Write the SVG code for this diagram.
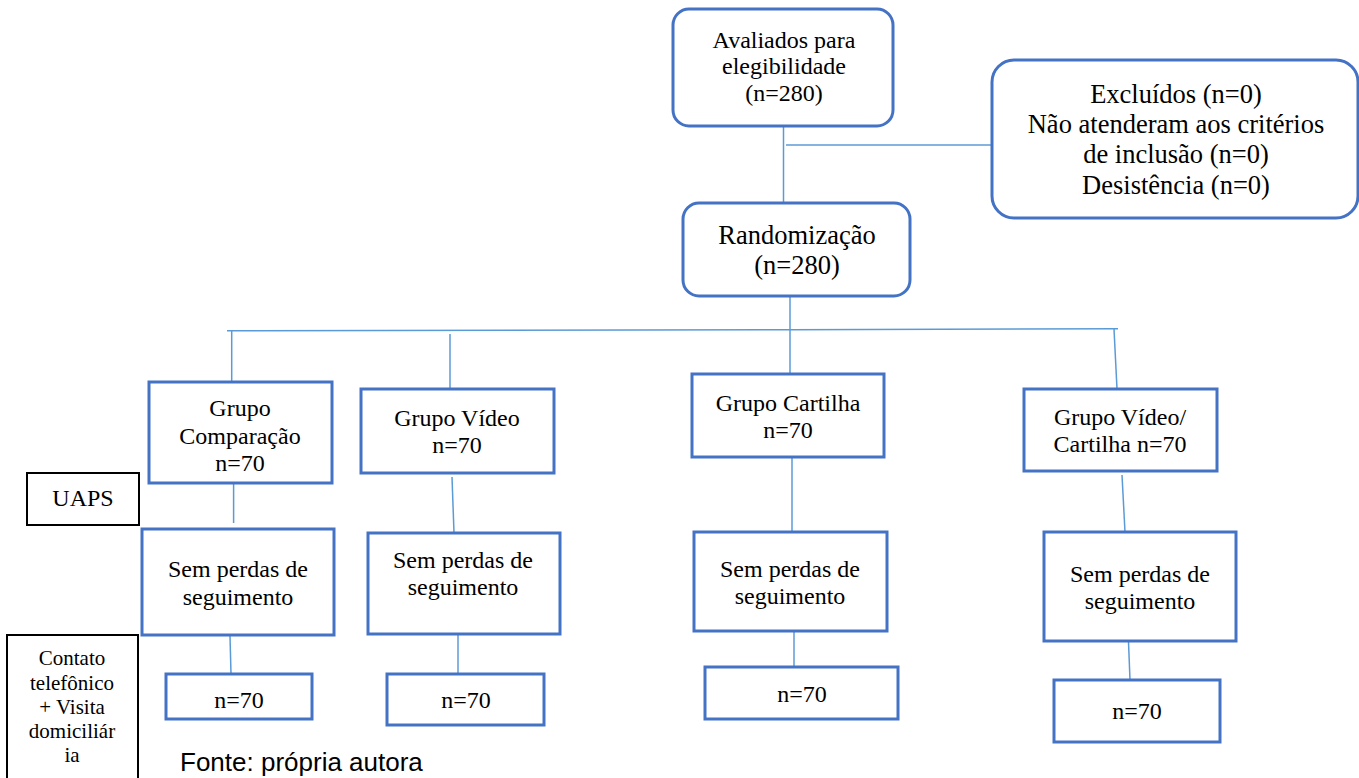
<svg xmlns="http://www.w3.org/2000/svg" width="1359" height="778" viewBox="0 0 1359 778">
<style>
  .box { fill: #ffffff; stroke: #4472C4; stroke-width: 3; }
  .bbox { fill: #ffffff; stroke: #000000; stroke-width: 2; }
  .ln { fill: none; stroke: #5B9BD5; stroke-width: 1.5; }
  text { font-family: "Liberation Serif", "Times New Roman", serif; fill: #000000; text-anchor: middle; }
  .t24 { font-size: 24px; }
  .t26 { font-size: 26.5px; }
  .t21 { font-size: 21px; }
  .src { font-family: "Liberation Sans", Arial, sans-serif; font-size: 26px; text-anchor: start; }
</style>
<rect width="1359" height="778" fill="#ffffff"/>
<g id="connectors">
  <line class="ln" x1="783.5" y1="126" x2="783.5" y2="202"/>
  <line class="ln" x1="786" y1="145" x2="991" y2="145"/>
  <line class="ln" x1="790" y1="296" x2="790" y2="374"/>
  <polyline class="ln" points="227,330.7 790,329.7 1118,328.7"/>
  <line class="ln" x1="231.7" y1="331" x2="231.7" y2="382"/>
  <line class="ln" x1="450" y1="334" x2="450" y2="389"/>
  <line class="ln" x1="1114" y1="329" x2="1117" y2="389"/>
  <line class="ln" x1="233.6" y1="483" x2="233.6" y2="523"/>
  <line class="ln" x1="452" y1="477" x2="454" y2="533"/>
  <line class="ln" x1="792" y1="454" x2="792" y2="532"/>
  <line class="ln" x1="1122" y1="475" x2="1125" y2="532"/>
  <line class="ln" x1="230" y1="636" x2="231" y2="674"/>
  <line class="ln" x1="458" y1="628" x2="458" y2="674"/>
  <line class="ln" x1="794" y1="631" x2="794" y2="667"/>
  <line class="ln" x1="1128.5" y1="642" x2="1130" y2="680"/>
</g>
<g id="avaliados">
  <rect class="box" x="673" y="9" width="220" height="117" rx="16"/>
  <text class="t24" x="784" y="48">Avaliados para</text>
  <text class="t24" x="784" y="74">elegibilidade</text>
  <text class="t24" x="784" y="101">(n=280)</text>
</g>
<g id="excluidos">
  <rect class="box" x="992" y="60" width="366" height="158" rx="22"/>
  <text class="t26" x="1176" y="103">Excluídos (n=0)</text>
  <text class="t26" x="1176" y="133">Não atenderam aos critérios</text>
  <text class="t26" x="1176" y="163">de inclusão (n=0)</text>
  <text class="t26" x="1176" y="194">Desistência (n=0)</text>
</g>
<g id="randomizacao">
  <rect class="box" x="683" y="203" width="227" height="93" rx="16"/>
  <text class="t26" x="797" y="244">Randomização</text>
  <text class="t26" x="797" y="274">(n=280)</text>
</g>
<g id="grupo-comparacao">
  <rect class="box" x="149" y="382" width="183" height="101"/>
  <text class="t24" x="240" y="416">Grupo</text>
  <text class="t24" x="240" y="444">Comparação</text>
  <text class="t24" x="240" y="471">n=70</text>
</g>
<g id="grupo-video">
  <rect class="box" x="361" y="389" width="193" height="84"/>
  <text class="t24" x="457" y="426">Grupo Vídeo</text>
  <text class="t24" x="457" y="453">n=70</text>
</g>
<g id="grupo-cartilha">
  <rect class="box" x="692" y="374" width="192" height="83"/>
  <text class="t24" x="788" y="411">Grupo Cartilha</text>
  <text class="t24" x="788" y="438">n=70</text>
</g>
<g id="grupo-video-cartilha">
  <rect class="box" x="1024" y="389" width="193" height="82"/>
  <text class="t24" x="1120" y="425">Grupo Vídeo/</text>
  <text class="t24" x="1120" y="452">Cartilha n=70</text>
</g>
<g id="uaps">
  <rect class="bbox" x="27" y="473" width="112" height="52"/>
  <text class="t24" x="83" y="506">UAPS</text>
</g>
<g id="sem-perdas-1">
  <rect class="box" x="142" y="529" width="192" height="106"/>
  <text class="t24" x="238" y="577">Sem perdas de</text>
  <text class="t24" x="238" y="605">seguimento</text>
</g>
<g id="sem-perdas-2">
  <rect class="box" x="368" y="533" width="192" height="101"/>
  <text class="t24" x="463" y="568">Sem perdas de</text>
  <text class="t24" x="463" y="595">seguimento</text>
</g>
<g id="sem-perdas-3">
  <rect class="box" x="694" y="532" width="193" height="99"/>
  <text class="t24" x="790" y="577">Sem perdas de</text>
  <text class="t24" x="790" y="604">seguimento</text>
</g>
<g id="sem-perdas-4">
  <rect class="box" x="1044" y="532" width="192" height="109"/>
  <text class="t24" x="1140" y="582">Sem perdas de</text>
  <text class="t24" x="1140" y="609">seguimento</text>
</g>
<g id="contato">
  <rect class="bbox" x="7" y="635" width="131" height="150"/>
  <text class="t21" x="72" y="665">Contato</text>
  <text class="t21" x="72" y="690">telefônico</text>
  <text class="t21" x="72" y="714">+ Visita</text>
  <text class="t21" x="72" y="738">domiciliár</text>
  <text class="t21" x="72" y="762">ia</text>
</g>
<g id="n70-1">
  <rect class="box" x="166" y="674" width="146" height="45"/>
  <text class="t24" x="239" y="708">n=70</text>
</g>
<g id="n70-2">
  <rect class="box" x="387" y="674" width="157" height="51"/>
  <text class="t24" x="466" y="708">n=70</text>
</g>
<g id="n70-3">
  <rect class="box" x="705" y="667" width="193" height="52"/>
  <text class="t24" x="802" y="702">n=70</text>
</g>
<g id="n70-4">
  <rect class="box" x="1054" y="680" width="166" height="62"/>
  <text class="t24" x="1137" y="719">n=70</text>
</g>
<g id="fonte">
  <text class="src" x="180" y="771">Fonte: própria autora</text>
</g>
</svg>
